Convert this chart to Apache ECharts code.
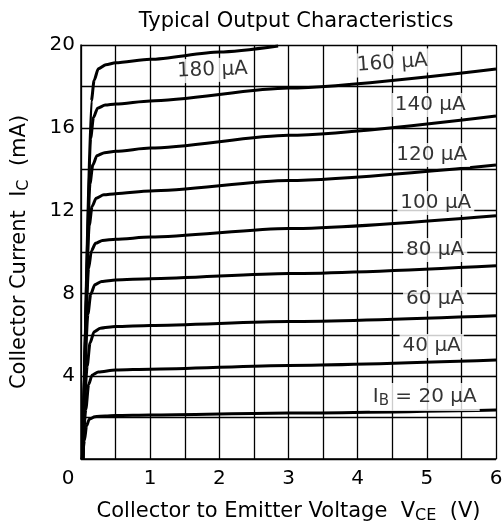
<!DOCTYPE html>
<html lang="en">
<head>
	<meta charset="UTF-8">
	<title>Typical Output Characteristics</title>
	<style>html, body { margin: 0; padding: 0; background: #fff; }</style>
</head>
<body>
	<div id="main" style="width: 504px;height: 526px"></div>
	<script src="https://cdn.jsdelivr.net/npm/echarts@6/dist/echarts.min.js"></script>
	<script>
		// Ic (mA) vs Vce (V), one array per base current
		var ib20  = [[0.02, 0], [0.05, 0.9], [0.08, 1.6], [0.12, 1.92], [0.2, 2.04], [0.35, 2.08], [0.5, 2.1], [1, 2.125], [3, 2.22], [6, 2.37]];
		var ib40  = [[0.02, 0], [0.07, 2.4], [0.11, 3.6], [0.16, 4.05], [0.25, 4.2], [0.5, 4.3], [1, 4.34], [3, 4.52], [6, 4.78]];
		var ib60  = [[0.02, 0], [0.09, 4.5], [0.13, 5.6], [0.19, 6.15], [0.28, 6.32], [0.5, 6.4], [1, 6.45], [3, 6.64], [6, 6.92]];
		var ib80  = [[0.02, 0], [0.1, 7.0], [0.14, 7.95], [0.2, 8.42], [0.3, 8.58], [0.5, 8.65], [1, 8.71], [3, 8.96], [6, 9.34]];
		var ib100 = [[0.02, 0], [0.11, 9.2], [0.15, 10.05], [0.21, 10.42], [0.31, 10.56], [0.5, 10.62], [1, 10.72], [3, 11.13], [6, 11.75]];
		var ib120 = [[0.02, 0], [0.12, 11.3], [0.16, 12.2], [0.22, 12.6], [0.33, 12.76], [0.5, 12.82], [1, 12.95], [3, 13.45], [6, 14.2]];
		var ib140 = [[0.03, 0], [0.13, 13.3], [0.17, 14.2], [0.23, 14.65], [0.34, 14.8], [0.5, 14.87], [1, 15.02], [3, 15.64], [6, 16.57]];
		var ib160 = [[0.03, 0], [0.14, 15.5], [0.18, 16.5], [0.24, 16.95], [0.35, 17.1], [0.5, 17.15], [1, 17.3], [3, 17.92], [6, 18.84]];
		var ib180 = [[0.03, 0], [0.15, 17.3], [0.19, 18.3], [0.25, 18.85], [0.36, 19.05], [0.5, 19.14], [1, 19.31], [2, 19.66], [2.85, 19.95]];

		var curves = [ib20, ib40, ib60, ib80, ib100, ib120, ib140, ib160, ib180];

		// curve labels: text and where it sits (V, mA)
		var curveLabels = [
			{ name: '{t|I}{s|B}{t| = 20 μA}', value: [4.97, 3.0] },
			{ name: '{t|40 μA}', value: [5.07, 5.46] },
			{ name: '{t|60 μA}', value: [5.12, 7.73] },
			{ name: '{t|80 μA}', value: [5.12, 10.1] },
			{ name: '{t|100 μA}', value: [5.13, 12.37] },
			{ name: '{t|120 μA}', value: [5.07, 14.68] },
			{ name: '{t|140 μA}', value: [5.05, 17.1] },
			{ name: '{t|160 μA}', value: [4.5, 19.13], label: { rotate: 4 } },
			{ name: '{t|180 μA}', value: [1.9, 18.79], label: { rotate: 2 } }
		];

		var font = '"DejaVu Sans", "Liberation Sans", Arial, sans-serif';

		var myChart = echarts.init(document.getElementById('main'));

		var series = curves.map(function(d) {
			return {
				type: 'line',
				data: d,
				symbol: 'none',
				smooth: 0.25,
				smoothMonotone: 'x',
				lineStyle: { color: '#000', width: 3 },
				z: 3
			};
		});

		series.push({
			type: 'scatter',
			data: curveLabels,
			symbolSize: 0,
			z: 5,
			label: {
				show: true,
				position: 'inside',
				formatter: function(p) { return p.name; },
				backgroundColor: '#fff',
				padding: [2, 3],
				rich: {
					t: { fontFamily: font, fontSize: 20, color: '#000' },
					s: { fontFamily: font, fontSize: 15, color: '#000', padding: [9, 0, 0, 0] }
				}
			}
		});

		var option = {
			animation: false,
			backgroundColor: '#fff',
			title: {
				text: 'Typical Output Characteristics',
				left: 291,
				textAlign: 'center',
				top: 6,
				textStyle: { fontFamily: font, fontSize: 21, fontWeight: 'normal', color: '#000' }
			},
			grid: {
				left: 81,
				right: 8,
				top: 45,
				bottom: 67,
				containLabel: false,
				outerBoundsMode: 'none'
			},
			xAxis: {
				type: 'value',
				min: 0,
				max: 6,
				interval: 0.5,
				name: '{a|Collector to Emitter Voltage  V}{s|CE}{a|  (V)}',
				nameLocation: 'middle',
				nameGap: 40,
				nameTextStyle: {
					fontFamily: font, fontSize: 21, color: '#000',
					rich: {
						a: { fontFamily: font, fontSize: 21, color: '#000' },
						s: { fontFamily: font, fontSize: 16, color: '#000', padding: [9, 0, 0, 0] }
					}
				},
				axisLine: { show: true, lineStyle: { color: '#000', width: 1.5 } },
				axisTick: { show: false },
				splitLine: { show: true, lineStyle: { color: '#000', width: 1.3 } },
				axisLabel: {
					margin: 10,
					fontFamily: font,
					fontSize: 20,
					color: '#000',
					formatter: function(v) {
						if (v === 0) return '{z|0}';
						return v % 1 === 0 ? String(v) : '';
					},
					rich: {
						z: { fontFamily: font, fontSize: 20, color: '#000', padding: [0, 26, 0, 0] }
					}
				}
			},
			yAxis: {
				type: 'value',
				min: 0,
				max: 20,
				interval: 2,
				name: '{a|Collector Current  I}{s|C}{a|  (mA)}',
				nameLocation: 'middle',
				nameGap: 49,
				nameRotate: 90,
				nameTextStyle: {
					fontFamily: font, fontSize: 21, color: '#000',
					rich: {
						a: { fontFamily: font, fontSize: 21, color: '#000' },
						s: { fontFamily: font, fontSize: 16, color: '#000', padding: [9, 0, 0, 0] }
					}
				},
				axisLine: { show: true, lineStyle: { color: '#000', width: 1.5 } },
				axisTick: { show: false },
				splitLine: { show: true, lineStyle: { color: '#000', width: 1.3 } },
				axisLabel: {
					margin: 6,
					fontFamily: font,
					fontSize: 20,
					color: '#000',
					formatter: function(v) {
						return (v !== 0 && v % 4 === 0) ? String(v) : '';
					}
				}
			},
			series: series
		};

		myChart.setOption(option);
	</script>
</body>
</html>
